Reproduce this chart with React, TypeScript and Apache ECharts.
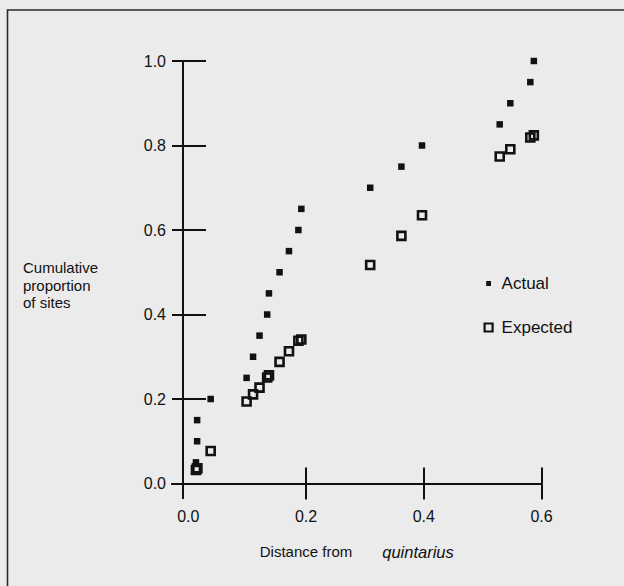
import { useEffect, useRef } from "react";
import * as echarts from "echarts";

// Distance from quintarius for each site (shared by both series)
const distances = [0.013, 0.015, 0.015, 0.038, 0.099, 0.110, 0.121, 0.134, 0.137, 0.155, 0.171, 0.187, 0.192, 0.309, 0.362, 0.397, 0.529, 0.547, 0.581, 0.587];
// Cumulative proportion of sites, actual
const actualProportion = [0.05, 0.10, 0.15, 0.20, 0.25, 0.30, 0.35, 0.40, 0.45, 0.50, 0.55, 0.60, 0.65, 0.70, 0.75, 0.80, 0.85, 0.90, 0.95, 1.00];
// Cumulative proportion of sites, expected
const expectedProportion = [0.032, 0.036, 0.036, 0.077, 0.194, 0.211, 0.227, 0.251, 0.256, 0.288, 0.313, 0.338, 0.341, 0.517, 0.586, 0.635, 0.774, 0.791, 0.819, 0.824];

const seriesNames = ["Actual", "Expected"];
const xTickValues = [0.2, 0.4, 0.6];
const xLabelValues = [0, 0.2, 0.4, 0.6];
const yTickValues = [0, 0.2, 0.4, 0.6, 0.8, 1.0];
const xTitleParts = ["Distance from", "quintarius"];
const yTitle = "Cumulative\nproportion\nof sites";

export default function App() {
  const ref = useRef<HTMLDivElement>(null);
  useEffect(() => {
    const chart = echarts.init(ref.current!, null, { renderer: "svg" });
    const font = "'Liberation Sans', Arial, Helvetica, sans-serif";
    const ink = "#111111";
    const bg = "#ebebeb";
    const xMin = -0.0277;
    const yMin = -0.0343;
    const fmt = (v: number) => v.toFixed(1);
    const axisLineStyle = { color: ink, width: 2 };

    chart.setOption({
      animation: false,
      backgroundColor: bg,
      textStyle: { fontFamily: font, color: ink },
      grid: { left: 172, top: 61, width: 369.5, height: 437, containLabel: false },
      title: {
        text: yTitle,
        left: 23,
        top: 259,
        padding: 0,
        textStyle: { fontSize: 15, fontWeight: "normal", lineHeight: 17.5, color: ink, fontFamily: font },
      },
      graphic: [
        {
          type: "polyline",
          silent: true,
          shape: { points: [[7.5, 586], [7.5, 10], [624, 10]] },
          style: { stroke: "#2a2a2a", lineWidth: 1.6, fill: "none" },
        },
      ],
      legend: {
        orient: "vertical",
        left: 478,
        top: 270,
        itemWidth: 8,
        itemHeight: 8,
        itemGap: 27,
        selectedMode: false,
        textStyle: { fontSize: 17, color: ink, fontFamily: font, lineHeight: 17, padding: [0, 0, 0, 4] },
        data: [
          { name: seriesNames[0], icon: "rect", itemStyle: { color: ink, opacity: 1, borderColor: bg, borderWidth: 3.2 } },
          { name: seriesNames[1], icon: "rect", itemStyle: { color: "rgba(0,0,0,0)", opacity: 1, borderColor: ink, borderWidth: 2.2 } },
        ],
      },
      xAxis: [
        {
          type: "value",
          position: "bottom",
          min: xMin,
          max: 0.6,
          splitLine: { show: false },
          axisLine: { show: true, onZero: true, lineStyle: axisLineStyle },
          axisTick: { show: true, inside: false, length: 16, customValues: xTickValues, lineStyle: axisLineStyle },
          axisLabel: { customValues: xLabelValues, formatter: fmt, margin: 10, fontSize: 16, color: ink, fontFamily: font },
          name: `{a|${xTitleParts[0]}}{b|${xTitleParts[1]}}`,
          nameLocation: "middle",
          nameGap: 45,
          nameTextStyle: {
            rich: {
              a: { fontSize: 15, color: ink, fontFamily: font },
              b: { fontSize: 16.5, color: ink, fontFamily: font, fontStyle: "italic", padding: [0, 0, 0, 30] },
            },
          },
        },
        {
          type: "value",
          position: "top",
          min: xMin,
          max: 0.6,
          splitLine: { show: false },
          axisLine: { show: true, onZero: true, lineStyle: axisLineStyle },
          axisTick: { show: true, inside: false, length: 16, customValues: xTickValues, lineStyle: axisLineStyle },
          axisLabel: { show: false },
        },
      ],
      yAxis: [
        {
          type: "value",
          position: "left",
          offset: -11,
          min: yMin,
          max: 1,
          splitLine: { show: false },
          axisLine: { show: true, onZero: false, lineStyle: axisLineStyle },
          axisTick: { show: true, inside: false, length: 11, customValues: yTickValues, lineStyle: axisLineStyle },
          axisLabel: { customValues: yTickValues, formatter: fmt, margin: 17, fontSize: 16, color: ink, fontFamily: font },
        },
        {
          type: "value",
          position: "right",
          offset: -358.5,
          min: yMin,
          max: 1,
          splitLine: { show: false },
          axisLine: { show: true, onZero: false, lineStyle: axisLineStyle },
          axisTick: { show: true, inside: false, length: 23, customValues: yTickValues, lineStyle: axisLineStyle },
          axisLabel: { show: false },
        },
      ],
      series: [
        {
          name: seriesNames[0],
          type: "scatter",
          xAxisIndex: 0,
          yAxisIndex: 0,
          symbol: "rect",
          symbolSize: 6.5,
          itemStyle: { color: ink, opacity: 1 },
          data: distances.map((d, i) => [d, actualProportion[i]]),
          z: 3,
        },
        {
          name: seriesNames[1],
          type: "scatter",
          xAxisIndex: 0,
          yAxisIndex: 0,
          symbol: "rect",
          symbolSize: 8,
          itemStyle: { color: "rgba(0,0,0,0)", borderColor: ink, borderWidth: 2.6, opacity: 1 },
          data: distances.map((d, i) => [d, expectedProportion[i]]),
          z: 4,
        },
      ],
    });
    return () => chart.dispose();
  }, []);
  return <div ref={ref} style={{ position: "fixed", left: 0, top: 0, width: 624, height: 586 }} />;
}
